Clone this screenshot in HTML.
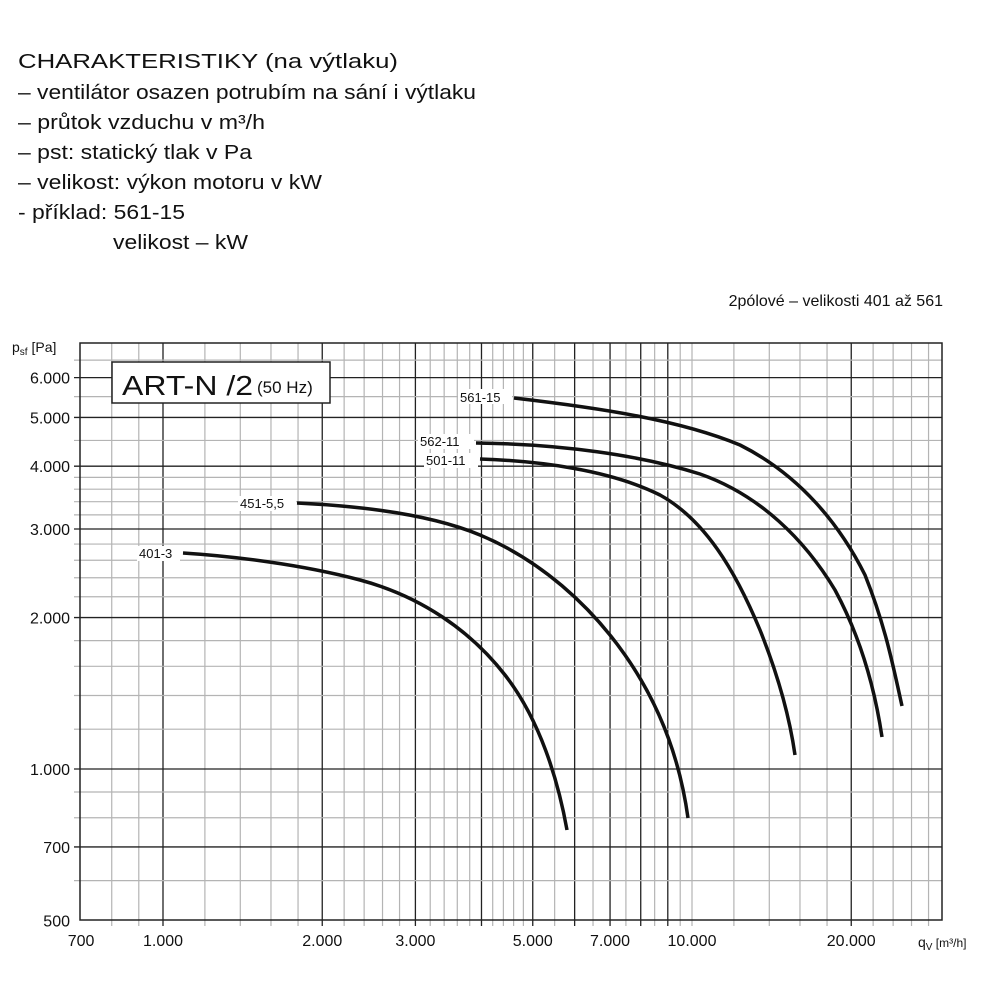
<!DOCTYPE html>
<html><head><meta charset="utf-8"><style>
html,body{margin:0;padding:0;background:#fff;}
svg{display:block;font-family:"Liberation Sans",sans-serif;}
</style></head><body>
<svg id="s" width="1000" height="1000" xmlns="http://www.w3.org/2000/svg">
<rect width="1000" height="1000" fill="#fff"/>
<g font-size="20" fill="#111">
<text x="18" y="68" textLength="380" lengthAdjust="spacingAndGlyphs">CHARAKTERISTIKY (na výtlaku)</text>
<text x="18" y="99" textLength="458" lengthAdjust="spacingAndGlyphs">– ventilátor osazen potrubím na sání i výtlaku</text>
<text x="18" y="129" textLength="247" lengthAdjust="spacingAndGlyphs">– průtok vzduchu v m³/h</text>
<text x="18" y="159" textLength="234" lengthAdjust="spacingAndGlyphs">– pst: statický tlak v Pa</text>
<text x="18" y="189" textLength="304" lengthAdjust="spacingAndGlyphs">– velikost: výkon motoru v kW</text>
<text x="18" y="219" textLength="167" lengthAdjust="spacingAndGlyphs">- příklad: 561-15</text>
<text x="113" y="249" textLength="135" lengthAdjust="spacingAndGlyphs">velikost – kW</text>
</g>
<text x="943" y="306" font-size="16" text-anchor="end" fill="#111">2pólové – velikosti 401 až 561</text>
<g id="grid"></g>
<rect x="80" y="343" width="862" height="577" fill="none" stroke="#222" stroke-width="1.5"/>
<rect x="112" y="362" width="218" height="41" fill="#fff" stroke="#222" stroke-width="1.5"/>
<text x="122" y="395" font-size="28" fill="#111" textLength="131" lengthAdjust="spacingAndGlyphs">ART-N /2</text>
<text x="257" y="393" font-size="17" fill="#111">(50 Hz)</text>
<text x="12" y="352" font-size="14" fill="#111">p<tspan font-size="10" dy="3">sf</tspan><tspan dy="-3"> [Pa]</tspan></text>
<text x="918" y="947" font-size="14" fill="#111">q<tspan font-size="10" dy="3">V</tspan><tspan dy="-3" font-size="12"> [m³/h]</tspan></text>
<g id="lbl" font-size="16" fill="#111"></g>
<g id="curves" fill="none" stroke="#111" stroke-width="3.5" stroke-linecap="butt" stroke-linejoin="round">
<path d="M183,553 C230,556 300,564 360,580 C420,596 470,630 505,675 C540,720 558,780 567,830"/>
<path d="M297,503 C360,506 430,514 480,535 C540,560 590,605 625,655 C660,705 680,760 688,818"/>
<path d="M480,459 C540,461 610,470 660,495 C705,520 735,570 760,630 C780,680 790,720 795,755"/>
<path d="M476,443 C560,444 640,455 700,474 C760,495 805,540 835,590 C862,640 875,690 882,737"/>
<path d="M514,398 C600,408 680,420 740,445 C800,475 840,525 865,575 C885,625 893,665 902,706"/>
</g>
<g font-size="13" fill="#111">
<rect x="458" y="389" width="54" height="15" fill="#fff"/><text x="460" y="402">561-15</text>
<rect x="418" y="434" width="56" height="15" fill="#fff"/><text x="420" y="446">562-11</text>
<rect x="424" y="453" width="54" height="15" fill="#fff"/><text x="426" y="465">501-11</text>
<rect x="238" y="496" width="58" height="15" fill="#fff"/><text x="240" y="508">451-5,5</text>
<rect x="137" y="546" width="43" height="15" fill="#fff"/><text x="139" y="558">401-3</text>
</g>
</svg>
<script>
(function(){
var NS="http://www.w3.org/2000/svg",g=document.getElementById("grid"),L=document.getElementById("lbl");
function X(v){return 163+(Math.log10(v)-3)*529;}
function Y(v){return 769-(Math.log10(v)-3)*503;}
function ln(x1,y1,x2,y2,c,w){var l=document.createElementNS(NS,"line");l.setAttribute("x1",x1);l.setAttribute("y1",y1);l.setAttribute("x2",x2);l.setAttribute("y2",y2);l.setAttribute("stroke",c);l.setAttribute("stroke-width",w);g.appendChild(l);}
function tx(x,y,s,a){var t=document.createElementNS(NS,"text");t.setAttribute("x",x);t.setAttribute("y",y);t.setAttribute("text-anchor",a);t.textContent=s;L.appendChild(t);}
var xs=[],v;
for(v=800;v<1000;v+=100)xs.push(v);
for(v=1000;v<3000;v+=200)xs.push(v);
for(v=3000;v<5000;v+=200)xs.push(v);
for(v=5000;v<10000;v+=500)xs.push(v);
for(v=10000;v<=28000;v+=2000)xs.push(v);
var dx=[1000,2000,3000,4000,5000,6000,7000,8000,9000,20000];
xs.forEach(function(v){var d=dx.indexOf(v)>=0;var x=X(v);ln(x,343,x,926,d?"#222":"#b4b4b4",d?1.3:1.2);});
var ys=[];
for(v=600;v<1000;v+=100)ys.push(v);
for(v=1000;v<4000;v+=200)ys.push(v);
ys.push(4000,4500,5000,5500,6000,6500);
var dy=[700,1000,2000,3000,4000,5000,6000];
ys.forEach(function(v){var d=dy.indexOf(v)>=0;var y=Y(v);ln(74,y,942,y,d?"#222":"#b4b4b4",d?1.3:1.2);});
[["700",700],["1.000",1000],["2.000",2000],["3.000",3000],["5.000",5000],["7.000",7000],["10.000",10000],["20.000",20000]].forEach(function(a){tx(X(a[1]),946,a[0],"middle");});
[["500",500],["700",700],["1.000",1000],["2.000",2000],["3.000",3000],["4.000",4000],["5.000",5000],["6.000",6000]].forEach(function(a){tx(70,Y(a[1])+6,a[0],"end");});
})();
</script>
</body></html>
